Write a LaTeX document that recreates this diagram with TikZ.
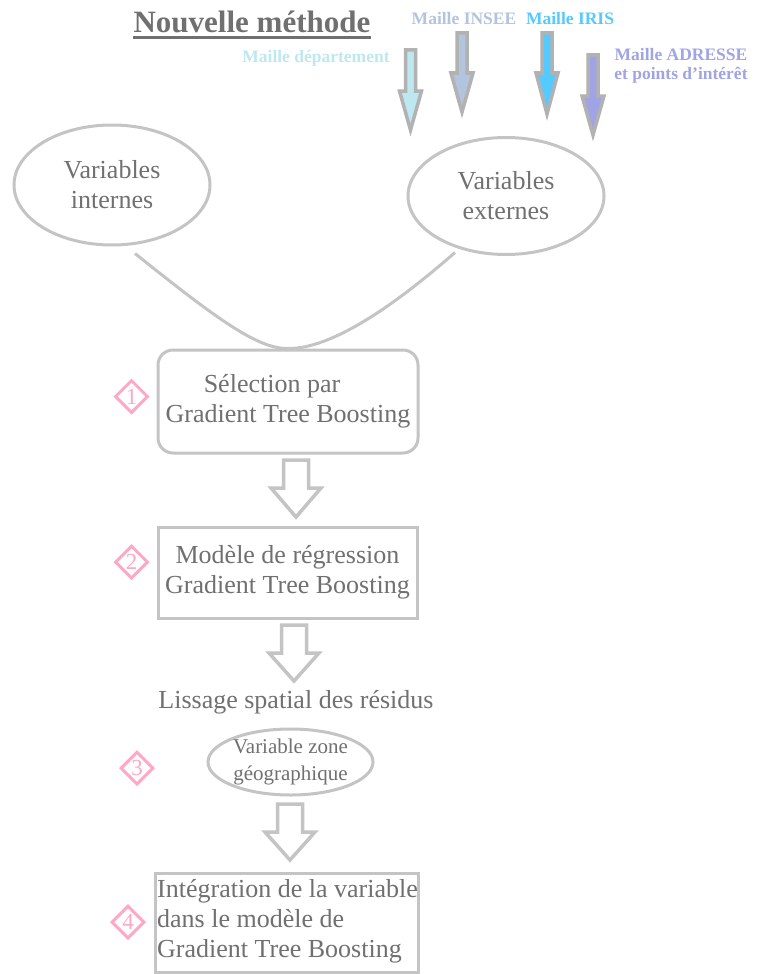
\documentclass[tikz,border=0pt]{standalone}
\usepackage{fontspec}
\setmainfont{Liberation Serif}
\usetikzlibrary{shapes.geometric}

\definecolor{txtgray}{RGB}{112,112,112}
\definecolor{framegray}{RGB}{196,196,196}
\definecolor{arrowgray}{RGB}{178,178,178}
\definecolor{stepink}{RGB}{255,168,198}
\definecolor{deptcol}{RGB}{190,232,240}
\definecolor{inseecol}{RGB}{178,196,222}
\definecolor{iriscol}{RGB}{84,202,255}
\definecolor{adrcol}{RGB}{160,164,228}

% coloured input arrow: colour, x, top, head start, tip
\newcommand{\feedarrow}[5]{%
  \filldraw[arrowgray, line width=3.5pt, fill=#1]
    (#2-5,#3) -- (#2+5,#3) -- (#2+5,#4) -- (#2+11,#4) -- (#2,#5)
    -- (#2-11,#4) -- (#2-5,#4) -- cycle;}
% hollow step arrow: x, top, head start, tip
\newcommand{\steparrow}[4]{%
  \draw[framegray, line width=3.5pt, fill=white]
    (#1-12.5,#2) -- (#1+12.5,#2) -- (#1+12.5,#3) -- (#1+25,#3) -- (#1,#4)
    -- (#1-25,#3) -- (#1-12.5,#3) -- cycle;}

\begin{document}
\begin{tikzpicture}[x=1pt,y=-1pt,
  maintext/.style={text=txtgray, font=\fontsize{26}{30}\selectfont, align=center},
  bubble/.style={ellipse, draw=framegray, line width=3pt, inner sep=0pt, maintext},
  stepbox/.style={rectangle, draw=framegray, line width=3pt, inner sep=0pt, maintext},
  meshlabel/.style={font=\bfseries\fontsize{17.5}{19}\selectfont, align=center, inner sep=0pt},
  badge/.style={diamond, draw=stepink, line width=3pt, text=stepink, aspect=1,
    minimum width=33pt, minimum height=33pt, inner sep=0pt,
    font=\fontsize{23}{23}\selectfont}]
\useasboundingbox (0,0) rectangle (760,974);
\fill[white] (0,0) rectangle (760,974);

% title
\node[text=txtgray, font=\bfseries\fontsize{31}{31}\selectfont, inner sep=0pt] (title) at (252,22) {Nouvelle méthode};
\draw[txtgray, line width=3pt] (title.west |- 0,38) -- (title.east |- 0,38);

% mesh labels
\node[meshlabel, text=inseecol] (insee) at (464,19) {Maille INSEE};
\node[meshlabel, text=iriscol] (iris) at (570,19) {Maille IRIS};
\node[meshlabel, text=deptcol] (dept) at (316,58) {Maille département};
\node[meshlabel, text=adrcol] (adr) at (681,66) {Maille ADRESSE\\et points d'intérêt};

% input arrows
\feedarrow{deptcol}{410.5}{50}{91}{130}
\feedarrow{inseecol}{462}{33}{73}{112}
\feedarrow{iriscol}{547}{33}{73}{114}
\feedarrow{adrcol}{593}{55}{96}{135}

% variable groups
\node[bubble, minimum width=196pt, minimum height=120pt] (intern) at (112,185) {Variables\\internes};
\node[bubble, minimum width=196pt, minimum height=117pt] (extern) at (506,196) {Variables\\externes};

% step 1
\node[stepbox, rounded corners=15pt, minimum width=260pt, minimum height=103pt] (sel) at (288,401.5) {\hspace*{-32pt}Sélection par\\Gradient Tree Boosting};
\node[badge] (b1) at (131.5,396.5) {1};

% merging of the two groups into step 1
\coordinate (inA) at ([shift={(23,7)}]intern.south);
\coordinate (inB) at ([shift={(-51,-3.5)}]extern.south);
\draw[framegray, line width=3pt]
  (inA) .. controls (218,320) and (258,349) .. (sel.north)
  .. controls (332,349) and (395,305) .. (inB);

% step 2
\steparrow{296}{460}{488}{517}
\node[stepbox, minimum width=259pt, minimum height=91pt] (reg) at (287.5,572.5) {Modèle de régression\\Gradient Tree Boosting};
\node[badge] (b2) at (131.5,562) {2};

% step 3
\steparrow{294}{625}{653}{681}
\node[maintext, inner sep=0pt] (liss) at (296,702) {Lissage spatial des résidus};
\node[bubble, minimum width=165pt, minimum height=66pt, font=\fontsize{21}{27}\selectfont] (zone) at (290.5,762) {Variable zone\\géographique};
\node[badge] (b3) at (137,768) {3};

% step 4
\steparrow{290}{804}{832}{860}
\draw[framegray, line width=3pt] (155,873) rectangle (418,972);
\node[maintext, align=left, anchor=west, inner sep=0pt] (integ) at (157,921.5) {Intégration de la variable\\dans le modèle de\\Gradient Tree Boosting};
\node[badge] (b4) at (128,922) {4};
\end{tikzpicture}
\end{document}
